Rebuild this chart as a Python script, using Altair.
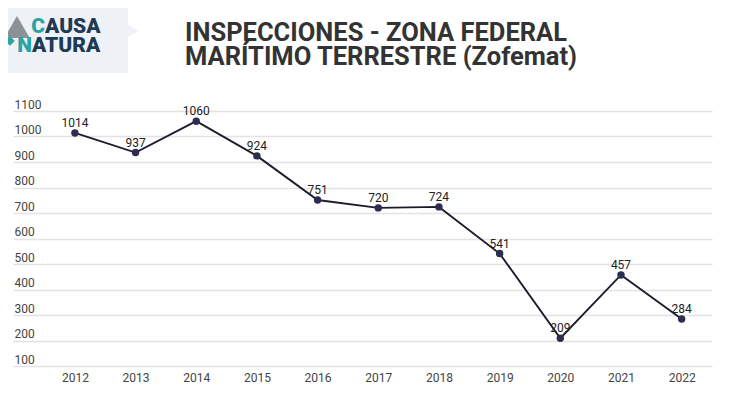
import altair as alt
import pandas as pd

years = [2012, 2013, 2014, 2015, 2016, 2017, 2018, 2019, 2020, 2021, 2022]
inspecciones = [1014, 937, 1060, 924, 751, 720, 724, 541, 209, 457, 284]
y_ticks = [100, 200, 300, 400, 500, 600, 700, 800, 900, 1000, 1100]
title_lines = ["INSPECCIONES - ZONA FEDERAL", "MARÍTIMO TERRESTRE (Zofemat)"]

df = pd.DataFrame({"year": years, "value": inspecciones})

FONT = "Roboto"
W, H = 699, 255

x_enc = alt.X("year:Q",
              scale=alt.Scale(domain=[2010.98, 2022.5], nice=False, zero=False),
              axis=alt.Axis(values=years, format="d", title=None, grid=False,
                            domain=False, ticks=False, tickSize=0, labelPadding=6,
                            labelOverlap=False,
                            labelFontSize=12, labelColor="#444444", labelFont=FONT))
y_enc = alt.Y("value:Q",
              scale=alt.Scale(domain=[100, 1100], nice=False, zero=False),
              axis=alt.Axis(values=y_ticks, format="d", title=None, domain=False, ticks=False,
                            tickSize=0, labelPadding=-1, labelAlign="left",
                            labelBaseline="alphabetic", labelOffset=-3, labelOverlap=False,
                            labelBound=False, labelFlush=False,
                            labelFontSize=12, labelColor="#444444", labelFont=FONT,
                            grid=True, gridColor="#e3e3e3", gridWidth=1.3))

base = alt.Chart(df)
line = base.mark_line(color="#1c1c2c", strokeWidth=1.9).encode(x=x_enc, y=y_enc)
points = base.mark_circle(color="#2d2d4f", opacity=1, size=55).encode(x=x_enc, y=y_enc)
labels = base.mark_text(baseline="bottom", dy=-3, fontSize=12, font=FONT,
                        color="#222222").encode(x=x_enc, y=y_enc, text="value:Q")

# Title as text marks (positioned in pixels above the plot area)
title1 = alt.Chart(pd.DataFrame({"t": [title_lines[0]]})).mark_text(
    align="left", baseline="alphabetic", fontSize=25.5, fontWeight="bold", font=FONT,
    color="#333333").encode(text="t:N", x=alt.value(172), y=alt.value(-70))
title2 = alt.Chart(pd.DataFrame({"t": [title_lines[1]]})).mark_text(
    align="left", baseline="alphabetic", fontSize=25.5, fontWeight="bold", font=FONT,
    color="#333333").encode(text="t:N", x=alt.value(172), y=alt.value(-46.5))

# Logo
one = pd.DataFrame({"a": [0]})
LOGO_FONT = "Roboto"
logo_bg = alt.Chart(one).mark_rect(color="#eef1f6").encode(
    x=alt.value(-13), x2=alt.value(115), y=alt.value(-111), y2=alt.value(-38))
logo_chev = alt.Chart(one).mark_point(shape="triangle-right", filled=True, color="#eef1f6",
                                      opacity=1, size=300).encode(
    x=alt.value(118), y=alt.value(-80))
mount = alt.Chart(one).mark_point(shape="triangle-up", filled=True, color="#8c9196",
                                  opacity=1, size=650).encode(
    x=alt.value(4), y=alt.value(-84))
diamond = alt.Chart(one).mark_point(shape="diamond", filled=True, color="#2aa3a3",
                                    opacity=1, size=90).encode(
    x=alt.value(-3), y=alt.value(-70))


def logo_txt(t, x, y, color, align):
    return alt.Chart(pd.DataFrame({"t": [t]})).mark_text(
        align=align, baseline="alphabetic", fontSize=21, fontWeight=900, font=LOGO_FONT,
        color=color).encode(text="t:N", x=alt.value(x), y=alt.value(y))


causa_c = logo_txt("C", 32, -78, "#2aa3a3", "right")
causa = logo_txt("AUSA", 32, -78, "#1f3a55", "left")
natura_n = logo_txt("N", 19, -59.5, "#2aa3a3", "right")
natura = logo_txt("ATURA", 19, -59.5, "#1f3a55", "left")

chart = alt.layer(
    logo_bg, logo_chev, mount, diamond, causa_c, causa, natura_n, natura,
    title1, title2, line, points, labels
).properties(
    width=W, height=H,
    autosize=alt.AutoSizeParams(type="none"),
    padding={"left": 5, "top": 103, "right": 30, "bottom": 31},
    background="white",
).configure_view(stroke=None).configure_axis(labelOverlap=False)

chart.save("out.html", embed_options={"renderer": "svg", "actions": False})
